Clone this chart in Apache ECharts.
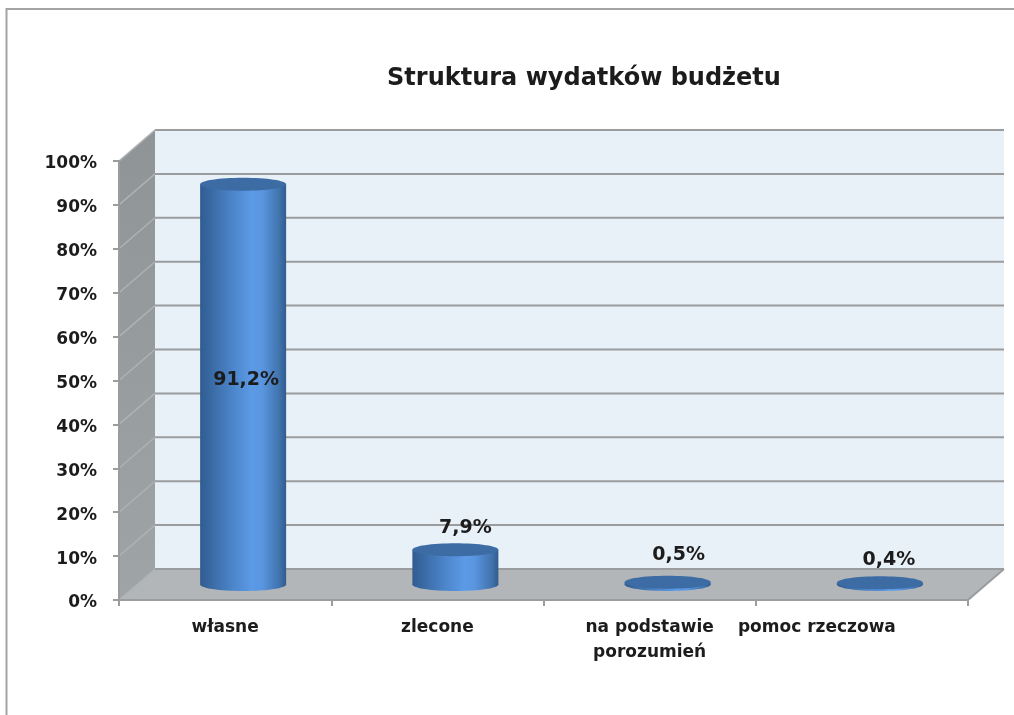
<!DOCTYPE html>
<html lang="pl">
<head>
<meta charset="utf-8">
<title>Struktura wydatków budżetu</title>
<style>
  html, body { margin: 0; padding: 0; background: #fff; }
  #chart { width: 1014px; height: 715px; }
</style>
</head>
<body>
<div id="chart"></div>
<script src="https://cdn.jsdelivr.net/npm/echarts@6/dist/echarts.min.js"></script>
<script>
const categories = ['własne', 'zlecone', 'na podstawie\nporozumień', 'pomoc rzeczowa']
const values = [91.2, 7.9, 0.5, 0.4]
const yTicks = [0, 10, 20, 30, 40, 50, 60, 70, 80, 90, 100]

// offset of the 3d box back wall against the front plane
const DEPTH_X = 36
const DEPTH_Y = -31
const BAR_RX = 43
const BAR_RY = 6.5
// value labels sit differently on each bar in the original
const labelShift = [[3, null], [10, -22], [11, -27], [9, -23]]

const FONT = '"DejaVu Sans", sans-serif'
const TEXT = '#1c1c1c'
const LINE = '#9a9c9e'

const chart = echarts.init(document.getElementById('chart'))

function renderBox(params, api) {
  const p00 = api.coord([0, 0])
  const size = api.size([1, 0])
  const xl = p00[0] - size[0] / 2
  const xr = xl + size[0] * categories.length
  const yb = p00[1]
  const yt = api.coord([0, yTicks[yTicks.length - 1]])[1]
  const children = [
    {
      type: 'rect',
      shape: { x: xl + DEPTH_X, y: yt + DEPTH_Y, width: xr - xl, height: yb - yt },
      style: { fill: '#e9f1f8' }
    },
    {
      type: 'polygon',
      shape: { points: [[xl, yt], [xl + DEPTH_X, yt + DEPTH_Y], [xl + DEPTH_X, yb + DEPTH_Y], [xl, yb]] },
      style: {
        fill: new echarts.graphic.LinearGradient(0, 0, 0, 1, [
          { offset: 0, color: '#8f9597' },
          { offset: 1, color: '#9fa4a6' }
        ])
      }
    },
    {
      type: 'polygon',
      shape: { points: [[xl, yb], [xl + DEPTH_X, yb + DEPTH_Y], [xr + DEPTH_X, yb + DEPTH_Y], [xr, yb]] },
      style: { fill: '#b2b6b9' }
    }
  ]
  yTicks.forEach(function (t) {
    const y = api.coord([0, t])[1]
    children.push({
      type: 'line',
      shape: { x1: xl, y1: y, x2: xl + DEPTH_X, y2: y + DEPTH_Y },
      style: { stroke: '#aeb2b4', lineWidth: 1.5 }
    })
    children.push({
      type: 'line',
      shape: { x1: xl + DEPTH_X, y1: y + DEPTH_Y, x2: xr + DEPTH_X, y2: y + DEPTH_Y },
      style: { stroke: LINE, lineWidth: 2 }
    })
  })
  children.push({
    type: 'line',
    shape: { x1: xr, y1: yb, x2: xr + DEPTH_X, y2: yb + DEPTH_Y },
    style: { stroke: LINE, lineWidth: 2 }
  })
  return { type: 'group', children: children }
}

function renderBar(params, api) {
  const i = api.value(0)
  const v = api.value(1)
  const base = api.coord([i, 0])
  const top = api.coord([i, v])
  const cx = base[0] + DEPTH_X / 2
  const yb = base[1] + DEPTH_Y / 2
  const yt = top[1] + DEPTH_Y / 2
  const shade = new echarts.graphic.LinearGradient(0, 0, 1, 0, [
    { offset: 0, color: '#305c90' },
    { offset: 0.35, color: '#4a82c6' },
    { offset: 0.6, color: '#5c9ae6' },
    { offset: 0.72, color: '#5a96e0' },
    { offset: 0.92, color: '#4173ae' },
    { offset: 1, color: '#305c8e' }
  ])
  const shift = labelShift[i]
  const labelY = shift[1] === null ? (yt + yb) / 2 - 4 : yt + shift[1]
  return {
    type: 'group',
    children: [
      {
        type: 'ellipse',
        shape: { cx: cx, cy: yb, rx: BAR_RX, ry: BAR_RY },
        style: { fill: shade }
      },
      {
        type: 'rect',
        shape: { x: cx - BAR_RX, y: yt, width: BAR_RX * 2, height: yb - yt },
        style: { fill: shade }
      },
      {
        type: 'ellipse',
        shape: { cx: cx, cy: yt, rx: BAR_RX, ry: BAR_RY },
        style: { fill: '#3d6ca5' }
      },
      {
        type: 'text',
        x: cx + shift[0],
        y: labelY,
        style: {
          text: v.toFixed(1).replace('.', ',') + '%',
          fill: TEXT,
          font: 'bold 19px ' + FONT,
          align: 'center',
          verticalAlign: 'middle'
        }
      }
    ]
  }
}

chart.setOption({
  backgroundColor: '#ffffff',
  animation: false,
  title: {
    text: 'Struktura wydatków budżetu',
    left: 579,
    top: 62,
    textAlign: 'center',
    textStyle: { fontFamily: FONT, fontSize: 24, fontWeight: 'bold', color: TEXT }
  },
  grid: { left: 119, right: 46, top: 161, bottom: 115 },
  xAxis: {
    type: 'category',
    data: categories,
    z: 5,
    axisLine: { show: true, lineStyle: { color: LINE, width: 2 } },
    axisTick: { show: true, length: 6, lineStyle: { color: LINE, width: 2 } },
    axisLabel: {
      interval: 0,
      margin: 15,
      fontFamily: FONT,
      fontSize: 17,
      fontWeight: 'bold',
      color: TEXT,
      lineHeight: 25,
      formatter: function (name) {
        // last label is pushed left of its slot in the original
        return name === 'pomoc rzeczowa' ? '{shift|' + name + '}' : name
      },
      rich: {
        shift: {
          padding: [0, 90, 0, 0],
          fontFamily: FONT,
          fontSize: 17,
          fontWeight: 'bold',
          color: TEXT
        }
      }
    }
  },
  yAxis: {
    type: 'value',
    min: 0,
    max: 100,
    interval: 10,
    z: 5,
    axisLine: { show: true, lineStyle: { color: LINE, width: 2 } },
    axisTick: { show: true, length: 6, lineStyle: { color: LINE, width: 2 } },
    axisLabel: {
      formatter: function (v) {
        return '{t|' + v + '%}'
      },
      margin: 22,
      rich: {
        // labels hang a little below their ticks in the original
        t: {
          padding: [6, 0, 0, 0],
          fontFamily: FONT,
          fontSize: 17,
          fontWeight: 'bold',
          color: TEXT
        }
      }
    },
    splitLine: { show: false }
  },
  graphic: [
    {
      type: 'polyline',
      silent: true,
      shape: { points: [[6.5, 715], [6.5, 9], [1014, 9]] },
      style: { stroke: '#a3a3a3', lineWidth: 2, fill: null }
    }
  ],
  series: [
    {
      type: 'custom',
      name: 'box',
      z: 1,
      clip: false,
      silent: true,
      data: [[0, 0]],
      renderItem: renderBox
    },
    {
      type: 'custom',
      name: 'wydatki',
      z: 3,
      clip: false,
      data: values.map(function (v, i) { return [i, v] }),
      encode: { x: 0, y: 1 },
      renderItem: renderBar
    }
  ]
})
</script>
</body>
</html>
